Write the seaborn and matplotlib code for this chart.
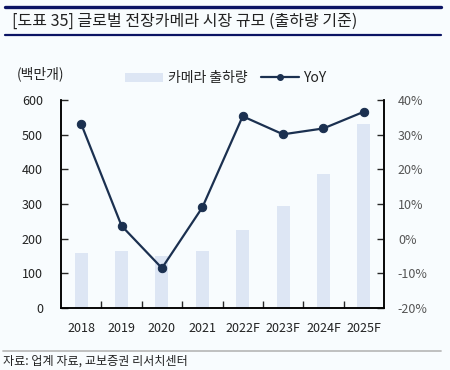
import numpy as np
import pandas as pd
import matplotlib
matplotlib.use("Agg")
import matplotlib.pyplot as plt
from matplotlib.lines import Line2D
from matplotlib.patches import Patch
import seaborn as sns

years = ["2018", "2019", "2020", "2021", "2022F", "2023F", "2024F", "2025F"]
shipments = [160, 165, 151, 165, 225, 293, 387, 531]
yoy = [33.1, 3.7, -8.5, 9.0, 35.3, 30.1, 31.8, 36.6]
left_ticks = [0, 100, 200, 300, 400, 500, 600]
right_ticks = [-20, -10, 0, 10, 20, 30, 40]

sns.set_theme(style="white")
plt.rcParams['font.family'] = ['Noto Sans CJK KR', 'DejaVu Sans']

BG = "#F8FCFE"
BAR = "#DDE6F4"
LINE = "#1B3050"
NAVY = "#0B1464"

df = pd.DataFrame({"year": years, "ship": shipments, "yoy": yoy})

fig = plt.figure(figsize=(4.5, 3.7), dpi=100, facecolor=BG)
ax = fig.add_axes([61/450, 1-308/370, 323/450, 208/370])
ax.set_facecolor(BG)

sns.barplot(data=df, x="year", y="ship", color=BAR, width=0.32, ax=ax,
            saturation=1, edgecolor="none")
ax.set_ylim(0, 600)
ax.set_yticks(left_ticks)
ax.set_xlim(-0.5, len(years)-0.5)
ax.set_xlabel("")
ax.set_ylabel("")

ax2 = ax.twinx()
sns.lineplot(data=df, x="year", y="yoy", color=LINE, marker="o", markersize=6,
             markeredgecolor=LINE, linewidth=1.6, ax=ax2)
ax2.set_ylim(-20, 40)
ax2.set_yticks(right_ticks)
ax2.set_yticklabels([f"{t}%" for t in right_ticks])
ax2.set_ylabel("")
ax2.set_xlim(-0.5, len(years)-0.5)

for a in (ax, ax2):
    for s in a.spines.values():
        s.set_color("black")
        s.set_linewidth(1.1)
    a.spines["top"].set_visible(False)

ax.tick_params(axis="y", direction="in", length=5, width=1, pad=13,
               labelsize=9, labelcolor="#222222", left=True)
ax2.tick_params(axis="y", direction="in", length=5, width=1, pad=10,
                labelsize=9, labelcolor="#555555", right=True)
ax.set_xticks(np.arange(len(years)))
ax.set_xticklabels(years)
ax.set_xticks(np.arange(len(years)-1) + 0.5, minor=True)
ax.tick_params(axis="x", which="major", length=0, pad=10, labelsize=9,
               labelcolor="#222222")
ax.tick_params(axis="x", which="minor", direction="in", length=5, width=1,
               bottom=True)

# Legend
handles = [Patch(facecolor=BAR, edgecolor="none"),
           Line2D([0], [0], color=LINE, marker="o", markersize=4, linewidth=1.6)]
fig.legend(handles, ["카메라 출하량", "YoY"], loc="center",
           bbox_to_anchor=(226/450, 1-78/370), ncol=2, frameon=False,
           fontsize=10, handlelength=2.7, handleheight=0.6, columnspacing=1.0,
           handletextpad=0.35, labelcolor="#222222")

fig.text(17/450, 1-74/370, "(백만개)", fontsize=10, va="center", ha="left",
         color="#222222")

# Header
fig.add_artist(Line2D([5/450, 441/450], [1-6.5/370, 1-6.5/370],
                      color=NAVY, linewidth=2.4, transform=fig.transFigure))
fig.add_artist(Line2D([5/450, 441/450], [1-35/370, 1-35/370],
                      color=NAVY, linewidth=1.6, transform=fig.transFigure))
fig.text(12/450, 1-21/370, "[도표 35] 글로벌 전장카메라 시장 규모 (출하량 기준)",
         fontsize=11.5, va="center", ha="left", color="#222222")

# Footer
fig.add_artist(Line2D([3/450, 441/450], [1-351/370, 1-351/370],
                      color="#BBBBBB", linewidth=1.3, transform=fig.transFigure))
fig.text(3/450, 1-361/370, "자료: 업계 자료, 교보증권 리서치센터", fontsize=8.7,
         va="center", ha="left", color="#222222")

fig.savefig("out.png", dpi=100, facecolor=BG)
